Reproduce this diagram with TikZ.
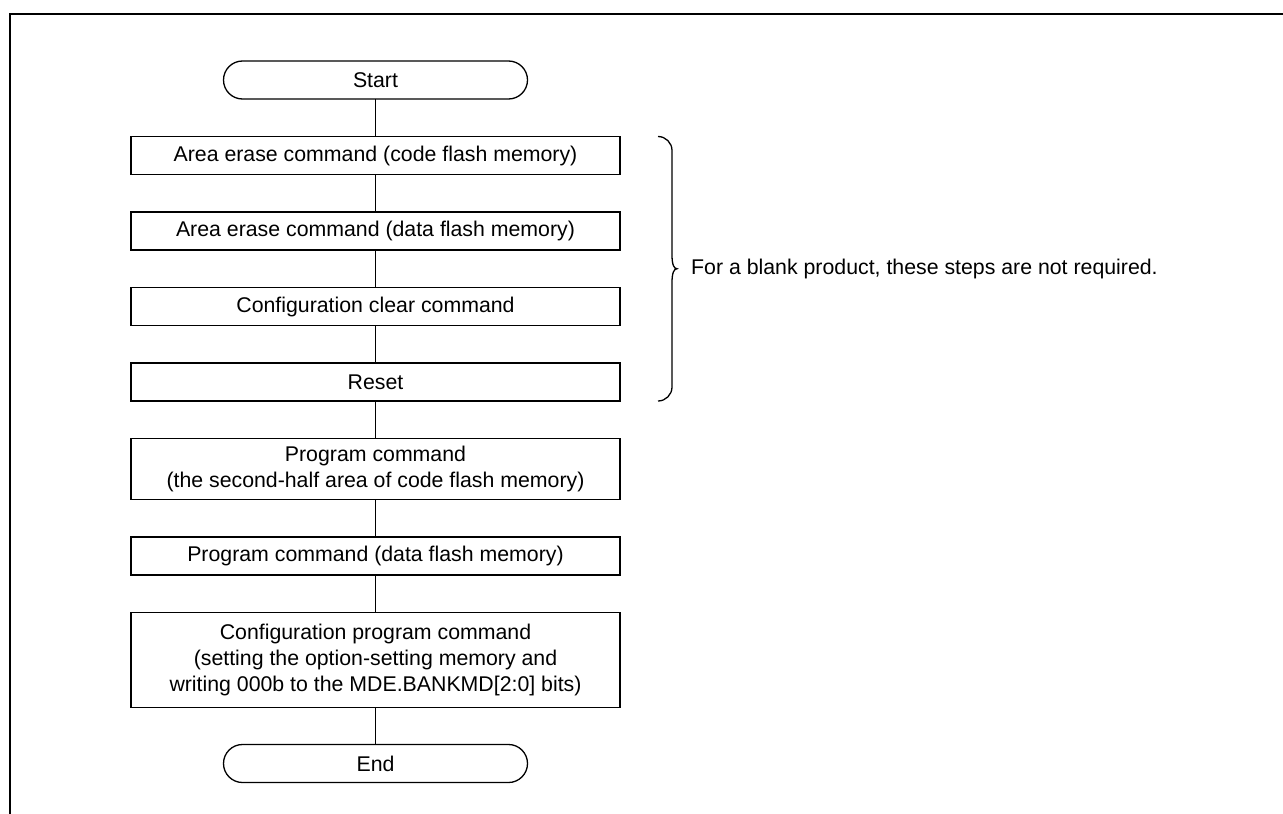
\documentclass[tikz,border=0pt]{standalone}
\usepackage{fontspec}
\setmainfont{Liberation Sans}
\usetikzlibrary{positioning,calc}

\begin{document}
\begin{tikzpicture}[
  x=1pt,y=1pt,
  node distance=37.5pt,
  stp/.style={draw,line width=1.3pt,outer sep=0pt,minimum width=489pt,minimum height=38pt,align=center,inner sep=2pt,font=\fontsize{21.3}{25.8}\selectfont},
  term/.style={stp,rounded corners=19pt,minimum width=304pt},
  lnk/.style={line width=1.3pt}
]
\useasboundingbox (0,0) rectangle (1283,-814);
\draw[line width=2.4pt] (10,-814) -- (10,-14) -- (1283,-14);

\node[term] (start) at (375.5,-80) {Start};
\node[stp,below=of start]  (area1) {Area erase command (code flash memory)};
\node[stp,below=of area1]  (area2) {Area erase command (data flash memory)};
\node[stp,below=of area2]  (cfgclr) {Configuration clear command};
\node[stp,below=of cfgclr] (reset) {Reset};
\node[stp,below=of reset,minimum height=61pt] (prog1) {Program command\\(the second-half area of code flash memory)};
\node[stp,below=of prog1]  (prog2) {Program command (data flash memory)};
\node[stp,below=of prog2,minimum height=95pt] (cfgprog) {Configuration program command\\(setting the option-setting memory and\\writing 000b to the MDE.BANKMD[2:0] bits)};
\node[term,below=37pt of cfgprog] (end) {End};

\draw[lnk] (start) -- (area1);
\draw[lnk] (area1) -- (area2);
\draw[lnk] (area2) -- (cfgclr);
\draw[lnk] (cfgclr) -- (reset);
\draw[lnk] (reset) -- (prog1);
\draw[lnk] (prog1) -- (prog2);
\draw[lnk] (prog2) -- (cfgprog);
\draw[lnk] (cfgprog) -- (end);

% brace over the steps a blank product can skip
\coordinate (bt) at ($(area1.north east)+(38,0)$);
\coordinate (bb) at ($(reset.south east)+(38,0)$);
\coordinate (tp) at ($(bt)!.5!(bb)+(19,0)$);
\draw[lnk] (bt) arc[start angle=90,end angle=0,radius=14pt]
  -- ($(tp)+(-5,14)$) .. controls ($(tp)+(-5,4)$) and ($(tp)+(-3,0)$) .. (tp)
  .. controls ($(tp)+(-3,0)$) and ($(tp)+(-5,-4)$) .. ($(tp)+(-5,-14)$)
  -- ($(bb)+(14,14)$) arc[start angle=0,end angle=-90,radius=14pt];
\node[right=14pt of tp,inner sep=0pt,font=\fontsize{21.3}{25.8}\selectfont] (note) {For a blank product, these steps are not required.};
\end{tikzpicture}
\end{document}
